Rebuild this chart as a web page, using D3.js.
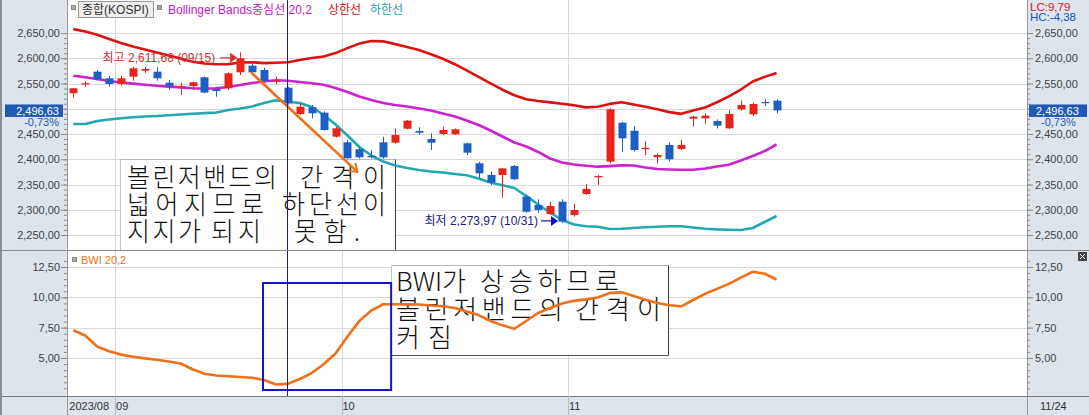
<!DOCTYPE html>
<html><head><meta charset="utf-8">
<script src="https://cdn.jsdelivr.net/npm/d3@7"></script>
<style>
body{margin:0;background:#fff;}
svg{display:block;font-family:"Liberation Sans","Noto Sans CJK KR",sans-serif;}
</style></head><body>
<svg id="c" width="1089" height="415"></svg>
<script>
// ---------------- DATA ----------------
const dates = ["2023-08-28","2023-08-29","2023-08-30","2023-08-31","2023-09-01","2023-09-04","2023-09-05","2023-09-06","2023-09-07","2023-09-08","2023-09-11","2023-09-12","2023-09-13","2023-09-14","2023-09-15","2023-09-18","2023-09-19","2023-09-20","2023-09-21","2023-09-22","2023-09-25","2023-09-26","2023-09-27","2023-10-04","2023-10-05","2023-10-06","2023-10-10","2023-10-11","2023-10-12","2023-10-13","2023-10-16","2023-10-17","2023-10-18","2023-10-19","2023-10-20","2023-10-23","2023-10-24","2023-10-25","2023-10-26","2023-10-27","2023-10-30","2023-10-31","2023-11-01","2023-11-02","2023-11-03","2023-11-06","2023-11-07","2023-11-08","2023-11-09","2023-11-10","2023-11-13","2023-11-14","2023-11-15","2023-11-16","2023-11-17","2023-11-20","2023-11-21","2023-11-22","2023-11-23","2023-11-24"];
const opens  = [2530.6,2549,2573.4,2560.3,2549,2563.5,2575.3,2573.4,2551.6,2542.5,2545,2562.3,2539,2540.5,2572.2,2585.3,2576.7,2554,2541.7,2489.6,2502.9,2492.2,2444.7,2433.6,2420,2406.5,2433.6,2432.8,2460.5,2455.9,2440.1,2450,2449.4,2431.5,2392,2368.8,2368.8,2386.6,2326,2309.4,2291.6,2316,2289.6,2331.2,2364.3,2395.2,2472.3,2456.5,2420,2403.9,2428.3,2420.5,2480.3,2481,2475.6,2461.3,2498.9,2489,2513.4,2516];
const highs  = [2541,2553.6,2576.7,2564.9,2565,2583.3,2583,2582,2557,2551.6,2553.6,2564,2543.7,2572,2611.68,2590,2581.3,2563.5,2543.7,2510.8,2507.4,2495,2463.5,2438,2424,2418,2444.7,2461,2477.7,2463.3,2451.4,2464.5,2461,2432.8,2395.2,2375.4,2382,2388.6,2330,2320.7,2316,2320.7,2311.4,2351,2368.8,2500.9,2474.3,2465.3,2436,2411.7,2433,2438,2485.7,2491,2479,2497.5,2516,2512,2518.7,2518.7];
const lows   = [2521.9,2543.7,2556,2543.7,2545.6,2555.5,2571,2555.5,2537,2527,2537,2531,2524,2537,2566.8,2566.8,2553.6,2549,2508,2487.6,2481,2457,2443,2401,2401.5,2401.5,2401,2431,2459,2448,2418.3,2448,2448,2408.4,2362.3,2349,2324,2359,2294,2294,2289.6,2273.97,2286.3,2329,2349,2392,2415,2415,2408,2392,2396,2418,2464.5,2470,2461,2460,2496,2485.6,2505.5,2491];
const closes = [2540.5,2550.5,2558.3,2549,2560.3,2580,2578.7,2560.3,2545,2545,2552.4,2532,2535,2570.2,2599.9,2572.2,2555,2556,2510.8,2504.1,2491,2457.9,2461.3,2401.9,2403.9,2403.9,2403.9,2448,2476.4,2452.6,2432.8,2457.9,2459.3,2413,2372.2,2353.6,2382,2360.3,2296,2299.5,2307.4,2276.4,2299.5,2341.1,2366.8,2498.9,2441.5,2418.3,2422.6,2408.4,2400,2428.3,2484.3,2486.3,2466.5,2489.6,2507.4,2509.4,2511,2496.63];
const bbUpper  = [2657.7,2652.8,2646.4,2638.3,2630.2,2623.3,2617.4,2611.2,2605.3,2599.4,2593.2,2589.6,2588.0,2588.4,2591.6,2592.1,2590.4,2591.0,2592.1,2596.5,2600.5,2603.3,2610.2,2620.1,2629.0,2634.2,2633.5,2628.0,2622.3,2616.3,2608.0,2598.9,2588.2,2576.1,2563.1,2550.2,2537.7,2526.8,2518.9,2515.4,2512.6,2509.8,2506.9,2502.7,2504.1,2509.6,2512.8,2508.4,2504.1,2498.8,2493.3,2489.9,2496.6,2502.5,2512.8,2524.5,2538.1,2554.0,2563.1,2570.8];
const bbMiddle = [2565.4,2562.3,2558.9,2555.0,2552.0,2549.8,2547.6,2545.6,2543.9,2542.3,2540.5,2539.9,2540.7,2543.1,2547.0,2551.0,2554.0,2556.5,2555.5,2553.0,2550.4,2547.6,2541.1,2533.2,2524.3,2517.3,2511.4,2507.5,2504.5,2500.6,2496.6,2490.7,2484.7,2476.8,2467.8,2456.9,2445.0,2433.2,2425.3,2414.4,2401.5,2393.6,2389.6,2387.2,2385.3,2386.4,2387.8,2387.6,2383.7,2380.7,2379.7,2379.1,2379.1,2381.7,2385.7,2389.2,2397.5,2406.4,2416.3,2429.2];
const bbLower  = [2469.8,2469.8,2475.8,2478.7,2481.3,2483.3,2484.7,2485.5,2487.0,2488.6,2490.2,2491.4,2492.6,2497.5,2500.5,2504.5,2511.4,2516.7,2513.8,2511.4,2503.5,2487.6,2468.8,2447.0,2424.3,2407.4,2395.5,2387.6,2382.7,2378.8,2375.8,2373.8,2370.8,2368.2,2361.9,2354.0,2348.4,2343.1,2327.2,2310.4,2294.6,2279.7,2270.8,2267.4,2266.4,2261.9,2262.5,2263.9,2265.3,2266.3,2267.3,2267.3,2264.9,2262.5,2261.1,2260.5,2259.9,2263.9,2275.8,2287.6];
const bwi      = [7.29,6.85,5.95,5.56,5.28,5.10,4.97,4.86,4.71,4.55,4.07,3.70,3.56,3.49,3.43,3.37,3.18,2.81,2.87,3.27,3.76,4.48,5.37,6.77,8.06,8.91,9.43,9.43,9.43,9.41,9.33,9.27,9.12,8.83,8.54,8.05,7.69,7.41,8.05,8.71,9.12,9.49,9.71,9.83,9.99,10.36,10.41,10.11,9.80,9.54,9.35,9.26,9.78,10.29,10.70,11.11,11.63,12.11,11.94,11.47];
const priceTicks = [2250,2300,2350,2400,2450,2500,2550,2600,2650];
const bwiTicks = [5,7.5,10,12.5];
const monthLabels = ["2023/08","09","10","11"];
const endLabel = "11/24";
const changeText = "-0,73%";
const lcText = "LC:9,79", hcText = "HC:-4,38";
const legendMain = "종합(KOSPI)";
const legendBB = ["Bollinger Bands중심선 20,2","상한선","하한선"];
const legendBWI = "BWI 20,2";
const note1 = [["볼린저밴드의","간격이"],["넓어지므로","하단선이"],["지지가","되지","못함."]];
const note2 = [["BWI가","상승하므로"],["볼린저밴드의","간격이"],["커짐"]];

// ---------------- LAYOUT ----------------
const svg = d3.select("#c");
const W = 1089, H = 415;
const L = 67.34, R = 1027, STEP = 11.92, NSLOT = 80;
const TOP0 = 0, TOP1 = 250, BOT0 = 251, BOT1 = 396;
const C = {strip:"#dde4ec", grid:"#d9d9d9", up:"#e8231c", down:"#1e5fc6",
  upper:"#dd1111", mid:"#cc22cc", low:"#22a8b0", bwi:"#f07018", axisTxt:"#444"};

const loc = d3.formatLocale({decimal:",", thousands:",", grouping:[3], currency:["",""]});
const fmt = loc.format(",.2f");

const slots = dates.concat(d3.range(NSLOT - dates.length).map(i => "pad" + i));
const PAD = 0.33;
const x = d3.scaleBand().domain(slots).range([L, L + STEP*NSLOT]).paddingInner(PAD).paddingOuter(PAD/2);
const cx = d => x(d) + x.bandwidth()/2;
const slotLeft = d => x(d) - x.step()*PAD/2;
const y = d3.scaleLinear().domain([2250, 2650]).range([235, 33]);
const yb = d3.scaleLinear().domain([5, 12.5]).range([358, 267]);

// backgrounds
svg.append("rect").attr("width", W).attr("height", H).attr("fill", C.strip);
svg.append("rect").attr("x", L).attr("y", TOP0).attr("width", R-L).attr("height", TOP1-TOP0).attr("fill", "#fff");
svg.append("rect").attr("x", L).attr("y", BOT0).attr("width", R-L).attr("height", BOT1-BOT0).attr("fill", "#fff");

const defs = svg.append("defs");
defs.append("clipPath").attr("id","clipTop").append("rect").attr("x",L).attr("y",TOP0).attr("width",R-L).attr("height",TOP1-TOP0);
defs.append("clipPath").attr("id","clipBot").append("rect").attr("x",L).attr("y",BOT0).attr("width",R-L).attr("height",BOT1-BOT0);

// month starts
const monthStarts = [];
dates.forEach((d,i) => { const m = d.slice(0,7); if (i===0 || m !== dates[i-1].slice(0,7)) monthStarts.push(d); });

// gridlines
const gTop = svg.append("g").attr("clip-path","url(#clipTop)");
gTop.selectAll(".hg").data(priceTicks).join("line")
  .attr("x1",L).attr("x2",R).attr("y1",d=>Math.round(y(d))+0.5).attr("y2",d=>Math.round(y(d))+0.5)
  .attr("stroke",C.grid);
gTop.selectAll(".vg").data(monthStarts.slice(1)).join("line")
  .attr("x1",d=>Math.round(slotLeft(d))+0.5).attr("x2",d=>Math.round(slotLeft(d))+0.5)
  .attr("y1",TOP0).attr("y2",TOP1).attr("stroke",C.grid);
const gBot = svg.append("g").attr("clip-path","url(#clipBot)");
gBot.selectAll(".hg").data(bwiTicks).join("line")
  .attr("x1",L).attr("x2",R).attr("y1",d=>Math.round(yb(d))+0.5).attr("y2",d=>Math.round(yb(d))+0.5)
  .attr("stroke",C.grid);
gBot.selectAll(".vg").data(monthStarts.slice(1)).join("line")
  .attr("x1",d=>Math.round(slotLeft(d))+0.5).attr("x2",d=>Math.round(slotLeft(d))+0.5)
  .attr("y1",BOT0).attr("y2",BOT1).attr("stroke",C.grid);

// note boxes
function noteBox(g, bx, by, bw, bh, lines, fs, sy, baselines, wordPos) {
  g.append("rect").attr("x",bx).attr("y",by).attr("width",bw).attr("height",bh).attr("fill","#fff");
  g.append("line").attr("x1",bx).attr("x2",bx+bw).attr("y1",by).attr("y2",by).attr("stroke","#b8b8b8");
  g.append("line").attr("x1",bx).attr("x2",bx).attr("y1",by).attr("y2",by+bh).attr("stroke","#c4c4c4");
  g.append("line").attr("x1",bx+bw).attr("x2",bx+bw).attr("y1",by).attr("y2",by+bh).attr("stroke","#3a3a3a");
  g.append("line").attr("x1",bx).attr("x2",bx+bw).attr("y1",by+bh).attr("y2",by+bh).attr("stroke","#555");
  lines.forEach((ws, li) => ws.forEach((w, wi) => {
    const p = wordPos[li][wi];
    const t = g.append("g").attr("transform",`translate(${p[0]},${baselines[li]}) scale(1,${sy})`)
      .append("text").attr("x",0).attr("y",0)
      .attr("font-family","'Noto Sans CJK KR',sans-serif").attr("font-weight",300)
      .attr("font-size",fs).attr("fill","#111").text(w);
    if (p[1]) t.attr("textLength",p[1]).attr("lengthAdjust","spacing");
  }));
}
noteBox(gTop, 120.5, 159.5, 275, 95, note1, 25, 1.05, [187, 214, 241],
  [[[127,150],[300,86]],[[127,137],[282,104]],[[127,74],[211,50],[294,66]]]);
noteBox(gBot, 391.5, 265.5, 277, 90, note2, 26, 1.0, [291, 319, 347],
  [[[396,0],[480,139]],[[396,167],[575,86]],[[396,56]]]);

// bollinger lines
const idx = d3.range(dates.length);
const lineOf = arr => d3.line().x(i => cx(dates[i])).y(i => y(arr[i]));
[[bbUpper,C.upper],[bbMiddle,C.mid],[bbLower,C.low]].forEach(([arr,col]) => {
  gTop.append("path").datum(idx).attr("d", lineOf(arr)).attr("fill","none")
    .attr("stroke",col).attr("stroke-width",2.6).attr("stroke-linejoin","round");
});

// candles
const bw = x.bandwidth();
const cg = gTop.append("g");
idx.forEach(i => {
  const up = closes[i] >= opens[i];
  const col = up ? C.up : C.down;
  const xc = Math.round(cx(dates[i])) + 0.5;
  cg.append("line").attr("x1",xc).attr("x2",xc).attr("y1",y(highs[i])).attr("y2",y(lows[i])).attr("stroke",col);
  const top = y(Math.max(opens[i],closes[i])), bot = y(Math.min(opens[i],closes[i]));
  cg.append("rect").attr("x",xc - bw/2).attr("y",top).attr("width",bw).attr("height",Math.max(1.2, bot-top)).attr("fill",col);
});

// BWI
gBot.append("path").datum(idx).attr("d", d3.line().x(i=>cx(dates[i])).y(i=>yb(bwi[i])))
  .attr("fill","none").attr("stroke",C.bwi).attr("stroke-width",2.6).attr("stroke-linejoin","round");

// blue rectangle in BWI panel
gBot.append("rect").attr("x", cx(dates[16]) - 1).attr("y", yb(11.18))
  .attr("width", cx(dates[27]) - 4 - (cx(dates[16]) - 1)).attr("height", yb(2.36) - yb(11.18))
  .attr("fill","none").attr("stroke","#1515c0").attr("stroke-width",2);

// orange trend arrow in top panel
const ax0 = cx(dates[15]) - 1, ay0 = y(2572), ax1 = cx(dates[24]) - 2, ay1 = y(2375);
gTop.append("line").attr("x1",ax0).attr("y1",ay0).attr("x2",ax1).attr("y2",ay1)
  .attr("stroke",C.bwi).attr("stroke-width",2.6);
gTop.append("path").attr("d",`M${ax1-9},${ay1-1}L${ax1},${ay1}L${ax1-2},${ay1-9}`)
  .attr("fill","none").attr("stroke",C.bwi).attr("stroke-width",2);

// max/min annotations
const iMax = d3.maxIndex(highs), iMin = d3.minIndex(lows);
const mmdd = d => d.slice(5).replace("-","/");
const hx = cx(dates[iMax]) - 3, hy = y(highs[iMax]) + 5.5;
svg.append("text").attr("x", hx - 22).attr("y", hy + 4).attr("text-anchor","end").attr("font-size",12)
  .attr("fill","#d03030").text(`최고 ${fmt(highs[iMax])} (${mmdd(dates[iMax])})`);
svg.append("line").attr("x1",hx-17).attr("x2",hx-5).attr("y1",hy).attr("y2",hy).attr("stroke","#d03030").attr("stroke-width",1.2);
svg.append("path").attr("d",`M${hx-7},${hy-5}L${hx},${hy}L${hx-7},${hy+5}Z`).attr("fill","#d03030");
const lx = cx(dates[iMin]) - 4, ly = y(lows[iMin]) - 2;
svg.append("text").attr("x", lx - 20).attr("y", ly + 4).attr("text-anchor","end").attr("font-size",12)
  .attr("fill","#202080").text(`최저 ${fmt(lows[iMin])} (${mmdd(dates[iMin])})`);
svg.append("line").attr("x1",lx-17).attr("x2",lx-6).attr("y1",ly).attr("y2",ly).attr("stroke","#1010d0").attr("stroke-width",1.2);
svg.append("path").attr("d",`M${lx-7},${ly-5}L${lx},${ly}L${lx-7},${ly+5}Z`).attr("fill","#1010d0");

// crosshair
const chx = Math.round(cx(dates[18])) - 0.5;
svg.append("line").attr("x1",chx).attr("x2",chx).attr("y1",0).attr("y2",BOT1).attr("stroke","#1a1a9a");

// panel separators & frame
svg.append("line").attr("x1",0).attr("x2",W).attr("y1",250.5).attr("y2",250.5).attr("stroke","#8a8a8a");
svg.append("line").attr("x1",0).attr("x2",W).attr("y1",BOT1+0.5).attr("y2",BOT1+0.5).attr("stroke","#7a7a7a");
svg.append("line").attr("x1",Math.round(L)+0.5).attr("x2",Math.round(L)+0.5).attr("y1",0).attr("y2",H).attr("stroke","#9a9a9a");
svg.append("line").attr("x1",R+0.5).attr("x2",R+0.5).attr("y1",0).attr("y2",H).attr("stroke","#9a9a9a");
svg.append("rect").attr("x",0).attr("y",0).attr("width",2).attr("height",H).attr("fill","#8a8f96");
monthStarts.slice(1).forEach(d => {
  const xx = Math.round(slotLeft(d))+0.5;
  svg.append("line").attr("x1",xx).attr("x2",xx).attr("y1",BOT1).attr("y2",H).attr("stroke","#b5bcc6");
});

// axes
function styleAxis(g) {
  g.select(".domain").remove();
  g.selectAll(".tick line").attr("stroke","#8a8a8a");
  g.selectAll(".tick text").attr("fill",C.axisTxt).attr("font-size",11).attr("font-family","'Liberation Sans',sans-serif");
}
const aL = svg.append("g").attr("transform",`translate(${Math.round(L)},0)`);
aL.call(d3.axisLeft(y).tickValues(d3.range(2250,2651,10)).tickSize(3).tickFormat("")); styleAxis(aL);
const aL2 = svg.append("g").attr("transform",`translate(${Math.round(L)},0)`);
aL2.call(d3.axisLeft(y).tickValues(priceTicks).tickSize(6).tickPadding(1).tickFormat(fmt)); styleAxis(aL2);
const aR = svg.append("g").attr("transform",`translate(${R},0)`);
aR.call(d3.axisRight(y).tickValues(d3.range(2250,2651,10)).tickSize(3).tickFormat("")); styleAxis(aR);
const aR2 = svg.append("g").attr("transform",`translate(${R},0)`);
aR2.call(d3.axisRight(y).tickValues(priceTicks).tickSize(6).tickPadding(2).tickFormat(fmt)); styleAxis(aR2);
const bL = svg.append("g").attr("transform",`translate(${Math.round(L)},0)`);
bL.call(d3.axisLeft(yb).tickValues(d3.range(2.5,13.1,0.5)).tickSize(3).tickFormat("")); styleAxis(bL);
bL.selectAll(".tick").filter(d => yb(d) < BOT0 || yb(d) > BOT1).remove();
const bL2 = svg.append("g").attr("transform",`translate(${Math.round(L)},0)`);
bL2.call(d3.axisLeft(yb).tickValues(bwiTicks).tickSize(6).tickPadding(1).tickFormat(fmt)); styleAxis(bL2);
const bR = svg.append("g").attr("transform",`translate(${R},0)`);
bR.call(d3.axisRight(yb).tickValues(d3.range(2.5,13.1,0.5)).tickSize(3).tickFormat("")); styleAxis(bR);
bR.selectAll(".tick").filter(d => yb(d) < BOT0 || yb(d) > BOT1).remove();
const bR2 = svg.append("g").attr("transform",`translate(${R},0)`);
bR2.call(d3.axisRight(yb).tickValues(bwiTicks).tickSize(6).tickPadding(2).tickFormat(fmt)); styleAxis(bR2);

// x labels
const monthLabelX = [L + 2, ...monthStarts.slice(1).map(d => slotLeft(d) + 1)];
monthLabels.forEach((t, i) => {
  svg.append("text").attr("x", monthLabelX[i]).attr("y", 410).attr("font-size",11).attr("fill","#333").text(t);
});
svg.append("text").attr("x", 1040).attr("y", 410).attr("font-size",11).attr("fill","#333").text(endLabel);

// current price boxes
const last = closes[closes.length-1];
const py = y(last);
[[5, 63, 59, "end"], [1029, 1087, 1033, "start"]].forEach(([x0, x1, tx, anc]) => {
  svg.append("rect").attr("x",x0).attr("y",py-6).attr("width",x1-x0).attr("height",12.5).attr("fill","#1f5bb5");
  svg.append("text").attr("x", anc==="end" ? tx : tx+3).attr("y",py+4.5).attr("text-anchor",anc).attr("font-size",11).attr("fill","#fff").text(fmt(last));
  svg.append("text").attr("x", anc==="end" ? tx : tx+8).attr("y",py+15.5).attr("text-anchor",anc).attr("font-size",11).attr("fill","#1f5bb5").text(changeText);
});

// top-right LC / HC
svg.append("text").attr("x",1030).attr("y",10.5).attr("font-size",11.5).attr("fill","#d02020").text(lcText);
svg.append("text").attr("x",1030).attr("y",20.5).attr("font-size",11.5).attr("fill","#2050c0").text(hcText);

// legends
svg.append("rect").attr("x",71.5).attr("y",5.5).attr("width",4).attr("height",4).attr("fill","#aaa").attr("stroke","#888");
svg.append("rect").attr("x",78.5).attr("y",1.5).attr("width",75).attr("height",16).attr("fill","#eeeeee").attr("stroke","#999");
svg.append("text").attr("x",82).attr("y",14).attr("font-size",12).attr("fill","#333").text(legendMain);
svg.append("rect").attr("x",157.5).attr("y",5.5).attr("width",4).attr("height",4).attr("fill","#aaa").attr("stroke","#888");
svg.append("text").attr("x",168).attr("y",14).attr("font-size",12).attr("fill","#c020c0").text(legendBB[0]);
svg.append("text").attr("x",328).attr("y",14).attr("font-size",12).attr("fill","#d01010").text(legendBB[1]);
svg.append("text").attr("x",370).attr("y",14).attr("font-size",12).attr("fill","#20a0a8").text(legendBB[2]);
svg.append("rect").attr("x",72.5).attr("y",257.5).attr("width",4).attr("height",4).attr("fill","#aaa").attr("stroke","#888");
svg.append("text").attr("x",81).attr("y",264).attr("font-size",11).attr("fill",C.bwi).text(legendBWI);

// close icon
svg.append("rect").attr("x",1078).attr("y",252).attr("width",9).attr("height",9).attr("fill","#444");
svg.append("path").attr("d","M1080,254L1085,259M1085,254L1080,259").attr("stroke","#fff").attr("stroke-width",1);
</script>
</body></html>
